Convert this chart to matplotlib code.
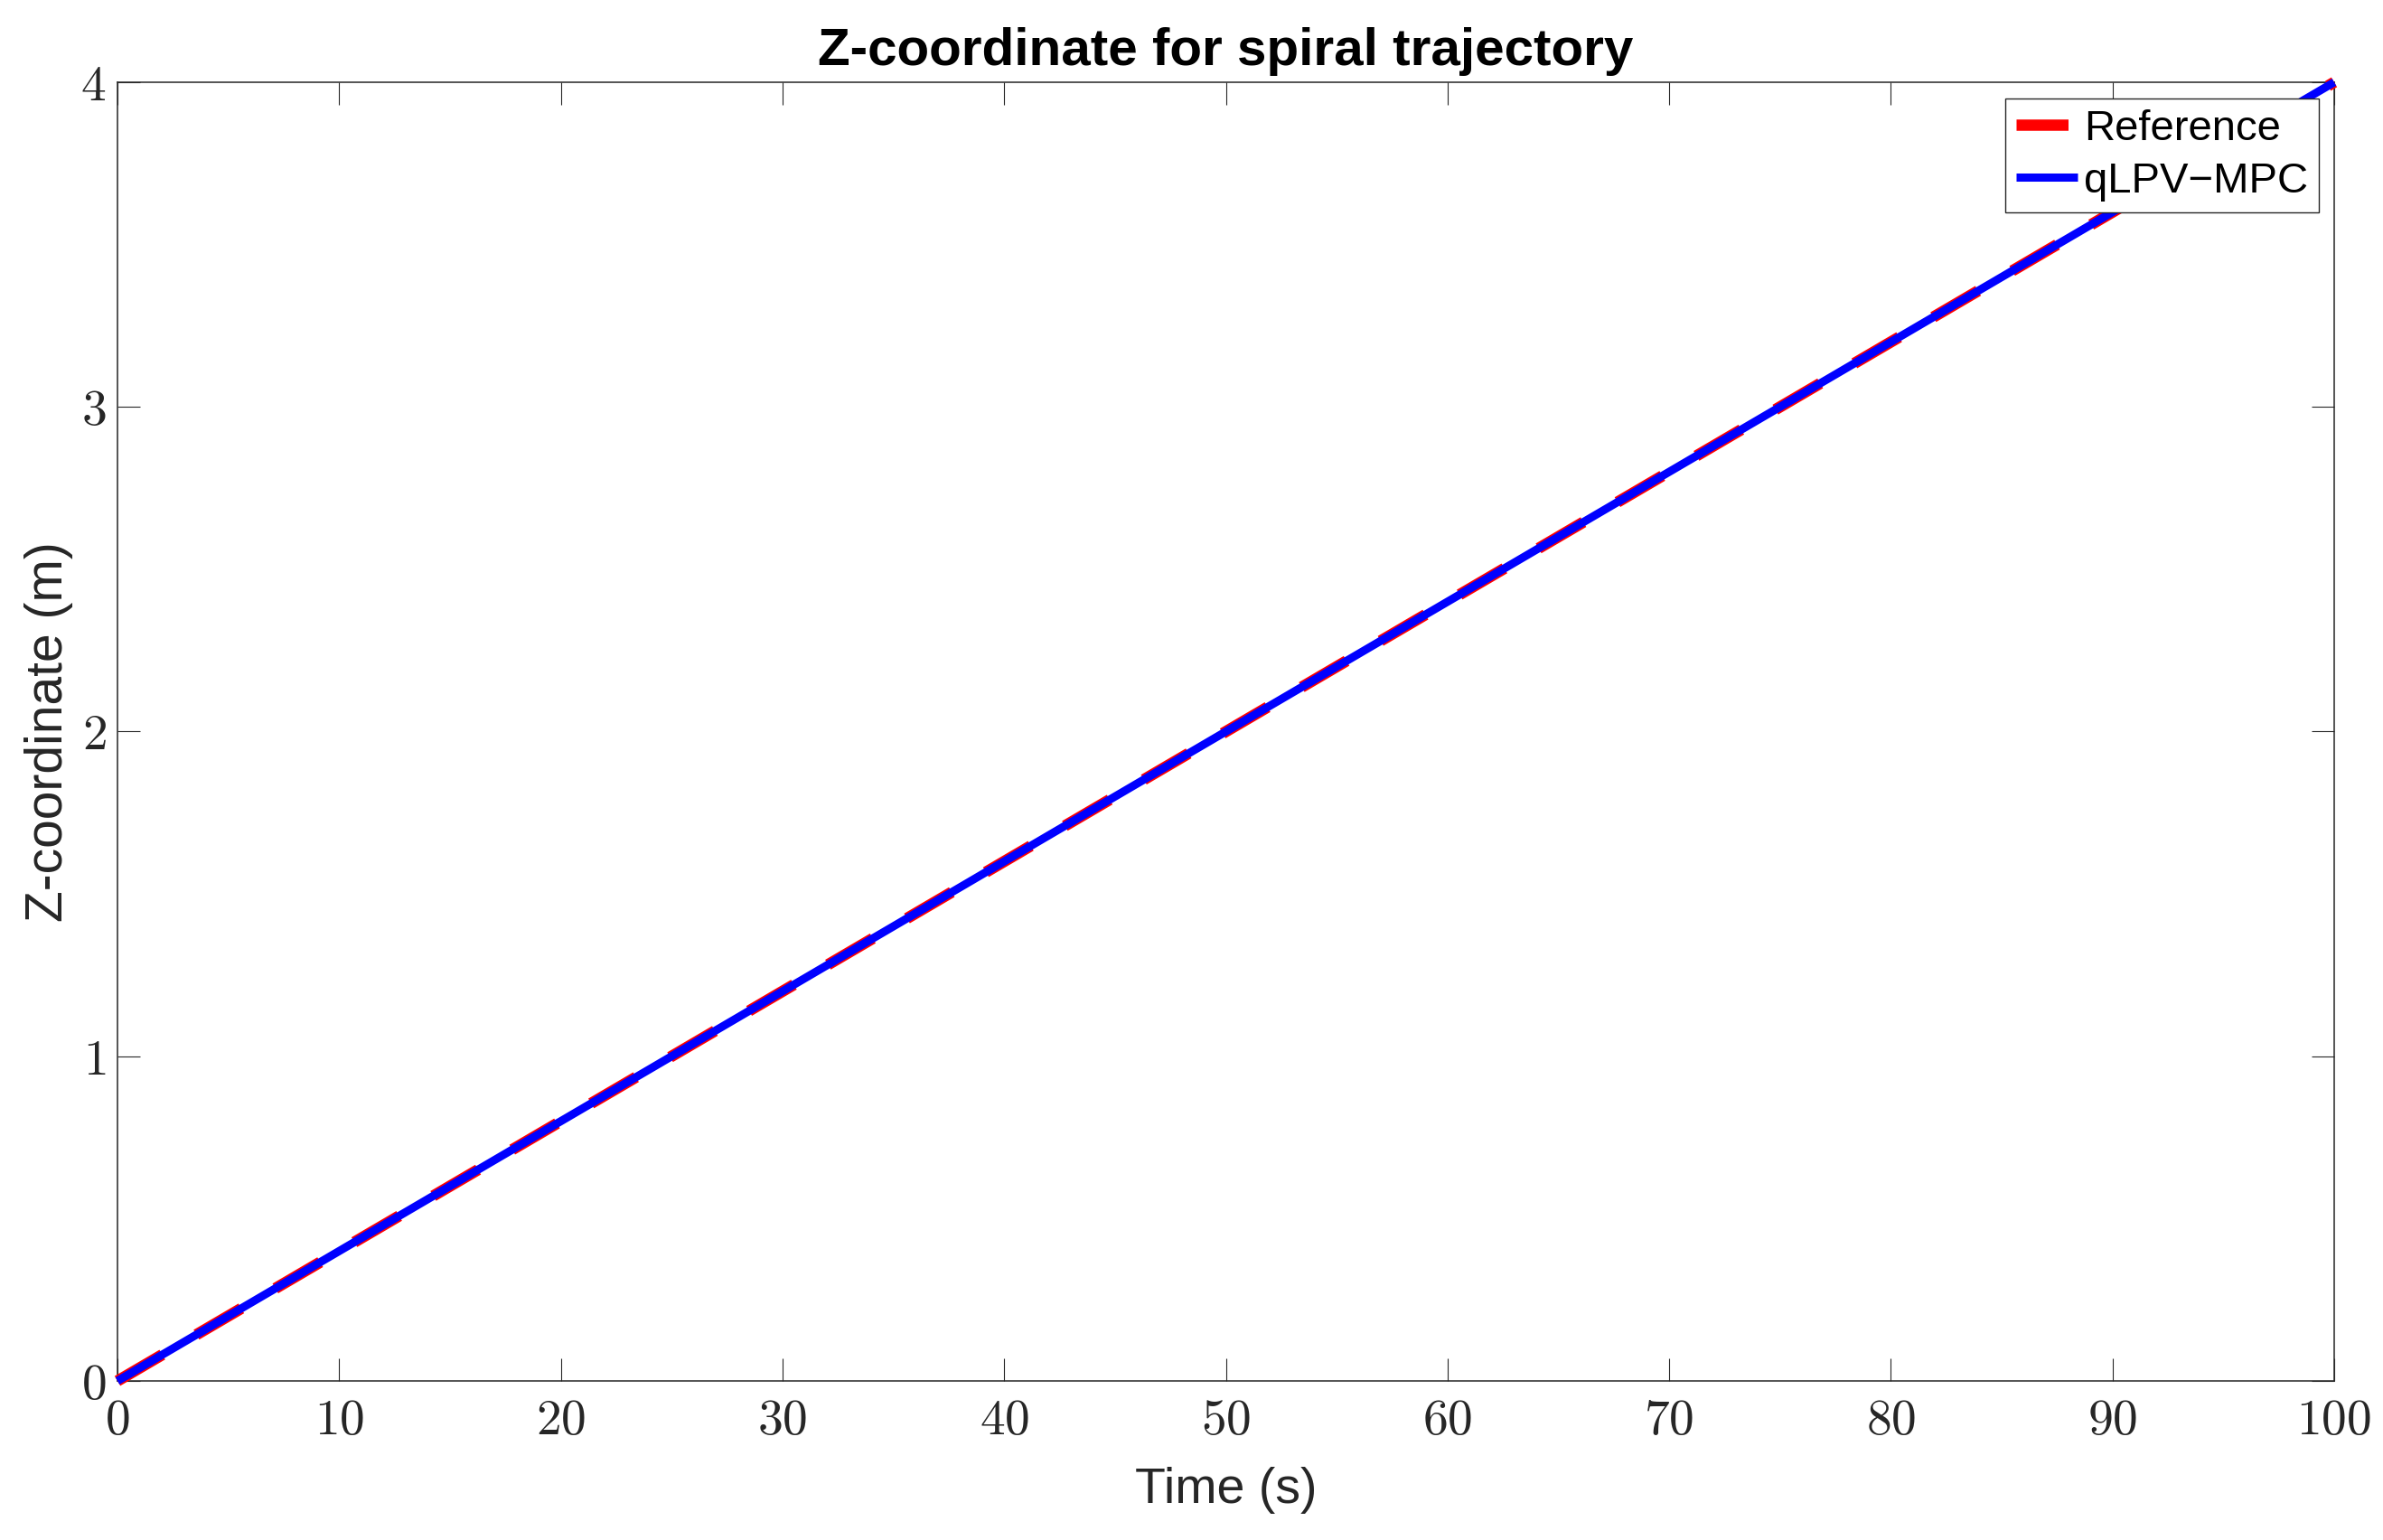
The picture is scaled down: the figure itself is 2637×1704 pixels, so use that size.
import matplotlib
matplotlib.use("Agg")
import matplotlib.pyplot as plt
from matplotlib.ticker import FuncFormatter, MultipleLocator

# ---- data ----
time_s = [0, 10, 20, 30, 40, 50, 60, 70, 80, 90, 100]
z_reference = [0.0, 0.4, 0.8, 1.2, 1.6, 2.0, 2.4, 2.8, 3.2, 3.6, 4.0]
z_qlpv_mpc = [0.0, 0.4, 0.8, 1.2, 1.6, 2.0, 2.4, 2.8, 3.2, 3.6, 4.0]
series_labels = ["Reference", "qLPV\u2212MPC"]
title_text = "Z-coordinate for spiral trajectory"
xlabel_text = "Time (s)"
ylabel_text = "Z-coordinate (m)"

plt.rcParams["mathtext.fontset"] = "cm"
plt.rcParams["font.family"] = ["Liberation Sans", "DejaVu Sans"]

W, H = 2637, 1704
fig = plt.figure(figsize=(W / 100, H / 100), dpi=100)
left, right, top, bottom = 130, 2583, 91, 1528
ax = fig.add_axes([left / W, 1 - bottom / H, (right - left) / W, (bottom - top) / H])

axcol = "#262626"

ax.plot(time_s, z_reference, color="red", lw=9, linestyle=(0, (4.6, 3.5)),
        dash_capstyle="butt", solid_capstyle="butt", clip_on=False, zorder=3,
        label=series_labels[0])
ax.plot(time_s, z_qlpv_mpc, color="blue", lw=6.5, solid_capstyle="butt",
        clip_on=False, zorder=4, label=series_labels[1])

ax.set_xlim(0, 100)
ax.set_ylim(0, 4)
ax.xaxis.set_major_locator(MultipleLocator(10))
ax.yaxis.set_major_locator(MultipleLocator(1))
fmt = FuncFormatter(lambda v, p: r"$%g$" % v)
ax.xaxis.set_major_formatter(fmt)
ax.yaxis.set_major_formatter(fmt)

for s in ax.spines.values():
    s.set_color(axcol)
    s.set_linewidth(1.1)

ax.tick_params(axis="both", which="major", direction="in", length=18, width=0.8,
               color=axcol, labelcolor=axcol, labelsize=40,
               top=True, right=True)
ax.tick_params(axis="x", pad=14)
ax.tick_params(axis="y", pad=9)

ax.set_xlabel(xlabel_text, fontsize=40, color=axcol, labelpad=17)
ax.set_ylabel(ylabel_text, fontsize=41, color=axcol, labelpad=6)
ax.set_title(title_text, fontsize=42, fontweight="bold", color="black", pad=14)

leg = ax.legend(loc="upper right", bbox_to_anchor=(2566 / W, 1 - 109 / H),
                bbox_transform=fig.transFigure, borderaxespad=0,
                fontsize=34, frameon=True, fancybox=False, framealpha=1,
                edgecolor=axcol, handlelength=1.45, handletextpad=0.15,
                borderpad=0.25, labelspacing=0.3)
leg.get_frame().set_linewidth(1.0)

fig.savefig("out.png", dpi=100, facecolor="white")
